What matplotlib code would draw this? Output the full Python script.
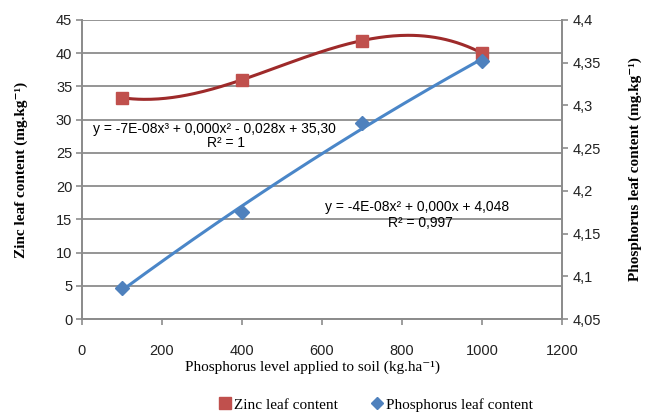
import numpy as np
import matplotlib.pyplot as plt
from matplotlib.lines import Line2D

# data
p_levels = [100, 400, 700, 1000]
zinc = [33.3, 36.0, 41.9, 40.0]
phosphorus = [4.086, 4.175, 4.280, 4.352]

zinc_eq = "y = -7E-08x³ + 0,000x² - 0,028x + 35,30"
zinc_r2 = "R² = 1"
phos_eq = "y = -4E-08x² + 0,000x + 4,048"
phos_r2 = "R² = 0,997"

right_ticks = [4.05, 4.1, 4.15, 4.2, 4.25, 4.3, 4.35, 4.4]
right_labels = ["4,05", "4,1", "4,15", "4,2", "4,25", "4,3", "4,35", "4,4"]

sans = ["Liberation Sans", "DejaVu Sans"]
serif = ["Liberation Serif", "DejaVu Serif"]
grey = "#8c8c8c"
red_line, red_mark = "#9e2a2a", "#c0504d"
blue_line, blue_mark = "#4a86c8", "#4f81bd"

fig = plt.figure(figsize=(6.49, 4.13), dpi=100)
ax = fig.add_axes([0.1263, 0.2276, 0.7397, 0.724])
ax2 = ax.twinx()

# polynomial trendlines fitted from the points
xs = np.linspace(100, 1000, 200)
zc = np.polyfit(p_levels, zinc, 3)
pc = np.polyfit(p_levels, phosphorus, 2)
ax.plot(xs, np.polyval(zc, xs), color=red_line, lw=2.2, zorder=3)
ax.plot(p_levels, zinc, "s", color=red_mark, ms=9, zorder=4)
ax2.plot(xs, np.polyval(pc, xs), color=blue_line, lw=2.2, zorder=3)
ax2.plot(p_levels, phosphorus, "D", color=blue_mark, ms=7, zorder=4)

ax.set_xlim(0, 1200)
ax.set_ylim(0, 45)
ax2.set_ylim(4.05, 4.4)
ax.set_xticks(range(0, 1201, 200))
ax.set_yticks(range(0, 46, 5))
ax2.set_yticks(right_ticks)
ax2.set_yticklabels(right_labels)
ax.yaxis.grid(True, color=grey, lw=1.3)
ax.set_axisbelow(True)

for a in (ax, ax2):
    for s in a.spines.values():
        s.set_color(grey)
        s.set_linewidth(1.3)
    a.spines["top"].set_visible(False)
    a.tick_params(colors=grey, labelcolor="#222222", labelsize=10.5, length=4, width=1.2)
    for lab in a.get_xticklabels() + a.get_yticklabels():
        lab.set_fontfamily(sans)
ax.tick_params(axis="x", pad=14)
ax.tick_params(axis="y", pad=3)

ax.set_xlabel("Phosphorus level applied to soil (kg.ha⁻¹)", family=serif,
              fontsize=11, labelpad=0)
ax.xaxis.set_label_coords(0.48, -0.14)
ax.set_ylabel("Zinc leaf content (mg.kg⁻¹)", family=serif, fontsize=11,
              fontweight="bold", labelpad=20)
ax2.set_ylabel("Phosphorus leaf content (mg.kg⁻¹)", family=serif, fontsize=11,
               fontweight="bold", labelpad=20)

ax.text(330, 28.6, zinc_eq, ha="center", va="center", family=sans, fontsize=10, zorder=5)
ax.text(360, 26.5, zinc_r2, ha="center", va="center", family=sans, fontsize=10, zorder=5)
ax.text(838, 16.8, phos_eq, ha="center", va="center", family=sans, fontsize=10, zorder=5)
ax.text(845, 14.4, phos_r2, ha="center", va="center", family=sans, fontsize=10, zorder=5)

handles = [Line2D([], [], ls="none", marker="s", color=red_mark, ms=8),
           Line2D([], [], ls="none", marker="D", color=blue_mark, ms=6)]
fig.legend(handles, ["Zinc leaf content", "Phosphorus leaf content"],
           loc="lower center", bbox_to_anchor=(0.578, -0.03), ncol=2, frameon=False,
           prop={"family": serif, "size": 11}, handletextpad=0.1, columnspacing=2.0,
           handlelength=1.0)

fig.savefig("out.png", dpi=100)
